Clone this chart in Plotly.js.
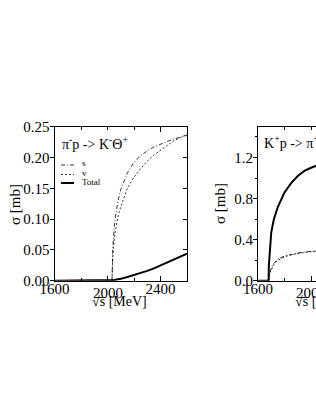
<!DOCTYPE html>
<html>
<head>
<meta charset="utf-8">
<script src="https://cdn.plot.ly/plotly-3.0.1.min.js"></script>
<style>
html,body{margin:0;padding:0;overflow:hidden;background:#fff;}
#chart{width:400px;height:409px;}
</style>
</head>
<body>
<div id="chart"></div>
<script>
// ---- data: left panel  pi- p -> K- Theta+ ----
const sqrtsL = [1600, 2034, 2036, 2040, 2050, 2060, 2080, 2100, 2150, 2200, 2250, 2300, 2350, 2400, 2450, 2500, 2550, 2600];
const sL     = [null, 0, 0.030, 0.055, 0.085, 0.105, 0.130, 0.148, 0.175, 0.192, 0.203, 0.211, 0.217, 0.222, 0.226, 0.230, 0.233, 0.236];
const vL     = [null, 0, 0.020, 0.040, 0.065, 0.082, 0.105, 0.120, 0.150, 0.168, 0.182, 0.194, 0.204, 0.212, 0.220, 0.227, 0.232, 0.238];
const totL   = [0, 0, 0.0002, 0.0005, 0.001, 0.0015, 0.002, 0.003, 0.006, 0.009, 0.0125, 0.016, 0.020, 0.025, 0.0295, 0.034, 0.039, 0.044];

// ---- data: right panel  K+ p -> pi+ Theta+ ----
const sqrtsR = [1600, 1680, 1682, 1690, 1700, 1720, 1750, 1800, 1850, 1900, 1950, 2000, 2100, 2200, 2300, 2400, 2500, 2600];
const totR   = [0, 0, 0.15, 0.35, 0.47, 0.60, 0.72, 0.86, 0.95, 1.02, 1.07, 1.10, 1.15, 1.18, 1.20, 1.21, 1.22, 1.22];
const sR     = [null, 0, 0.04, 0.08, 0.12, 0.17, 0.21, 0.24, 0.258, 0.270, 0.279, 0.286, 0.297, 0.305, 0.311, 0.316, 0.320, 0.323];
const vR     = [null, 0, 0.035, 0.075, 0.11, 0.16, 0.20, 0.232, 0.252, 0.265, 0.275, 0.283, 0.295, 0.304, 0.311, 0.317, 0.322, 0.326];

const xTickVals = [1600, 2000, 2400];
const xTickText = ["1600", "", "2400"];
const xMidLabel = 2000;            // this label sits a little lower in the reference
const yTickValsL = [0, 0.05, 0.10, 0.15, 0.20, 0.25];
const yTickValsR = [0, 0.4, 0.8, 1.2];
const titleL = "π<sup>-</sup>p -> K<sup>-</sup>Θ<sup>+</sup>";
const titleR = "K<sup>+</sup>p -> π<sup>+</sup>Θ<sup>+</sup>";
const legendNames = ["s", "v", "Total"];
const xTitle = "√s̅ [MeV]";
const yTitle = "σ [mb]";

// ---- layout geometry (pixels) ----
const W = 400, H = 409;
const fx = p => p / W, fy = p => 1 - p / H;
const plotTop = 126.7, plotBot = 280.7;
const L0 = 54.5, L1 = 187, R0 = 258, R1 = 390.5;

const FONT = "Liberation Serif, Times New Roman, serif";
const dashS = "4px,2px,1px,2px";
const dashV = "2px,2px";

const traces = [
  {x: sqrtsL, y: sL, xaxis: 'x', yaxis: 'y', mode: 'lines', line: {color: '#000', width: 0.8, dash: dashS}, name: 's'},
  {x: sqrtsL, y: vL, xaxis: 'x', yaxis: 'y', mode: 'lines', line: {color: '#000', width: 0.8, dash: dashV}, name: 'v'},
  {x: sqrtsL, y: totL, xaxis: 'x', yaxis: 'y', mode: 'lines', line: {color: '#000', width: 2}, name: 'Total'},
  {x: sqrtsR, y: sR, xaxis: 'x2', yaxis: 'y2', mode: 'lines', line: {color: '#000', width: 0.8, dash: dashS}, name: 's'},
  {x: sqrtsR, y: vR, xaxis: 'x2', yaxis: 'y2', mode: 'lines', line: {color: '#000', width: 0.8, dash: dashV}, name: 'v'},
  {x: sqrtsR, y: totR, xaxis: 'x2', yaxis: 'y2', mode: 'lines', line: {color: '#000', width: 2}, name: 'Total'},
  {x: [null], y: [null], xaxis: 'x3', yaxis: 'y3', mode: 'lines', showlegend: false, hoverinfo: 'skip'},
  {x: [null], y: [null], xaxis: 'x4', yaxis: 'y4', mode: 'lines', showlegend: false, hoverinfo: 'skip'}
];

const tickFont = {family: FONT, size: 15, color: '#000'};
function xAx(dom, anchor, extra) {
  return Object.assign({
    domain: dom, anchor: anchor, range: [1600, 2600], tickvals: xTickVals, ticktext: xTickText, ticks: 'inside', ticklen: 5,
    tickwidth: 1, tickcolor: '#000', showline: true, linecolor: '#000', linewidth: 1, showgrid: false,
    zeroline: false, tickfont: tickFont, fixedrange: true, ticklabelstandoff: -6,
    minor: {dtick: 200, tick0: 1600, ticks: 'inside', ticklen: 3, tickcolor: '#000', showgrid: false}
  }, extra || {});
}
function yAx(rng, vals, fmt, anchor, minorDt, extra) {
  const o = {
    domain: [fy(plotBot), fy(plotTop)], anchor: anchor, range: rng, tickvals: vals, tickformat: fmt,
    ticks: 'outside', ticklen: 4, tickwidth: 1, tickcolor: '#000', showline: true, linecolor: '#000', linewidth: 1,
    showgrid: false, zeroline: false, tickfont: tickFont, fixedrange: true, ticklabelstandoff: -3
  };
  if (minorDt) o.minor = {dtick: minorDt, tick0: 0, ticks: 'outside', ticklen: 2, tickcolor: '#000', showgrid: false};
  return Object.assign(o, extra || {});
}

const layout = {
  width: W, height: H, margin: {l: 0, r: 0, t: 0, b: 0},
  paper_bgcolor: '#fff', plot_bgcolor: '#fff', showlegend: false,
  font: {family: FONT, color: '#000'},
  xaxis: xAx([fx(L0), fx(L1)], 'y'),
  yaxis: yAx([0, 0.25], yTickValsL, '.2f', 'x'),
  xaxis2: xAx([fx(R0), fx(R1)], 'y2'),
  yaxis2: yAx([0, 1.5], yTickValsR, '.1f', 'x2', 0.2),
  xaxis3: xAx([fx(L0), fx(L1)], 'y3', {overlaying: 'x', side: 'top', showticklabels: false}),
  yaxis3: yAx([0, 0.25], yTickValsL, '.2f', 'x3', null, {overlaying: 'y', side: 'right', ticks: 'inside', showticklabels: false}),
  xaxis4: xAx([fx(R0), fx(R1)], 'y4', {overlaying: 'x2', side: 'top', showticklabels: false}),
  yaxis4: yAx([0, 1.5], yTickValsR, '.1f', 'x4', null, {overlaying: 'y2', side: 'right', ticks: 'inside', showticklabels: false,
           minor: {dtick: 0.2, tick0: 0, ticks: 'inside', ticklen: 2, tickcolor: '#000', showgrid: false}}),
  annotations: [
    {text: String(xMidLabel), xref: 'x', yref: 'paper', x: xMidLabel, y: fy(292.5), xanchor: 'center', yanchor: 'middle', showarrow: false, font: tickFont},
    {text: String(xMidLabel), xref: 'x2', yref: 'paper', x: xMidLabel, y: fy(292.5), xanchor: 'center', yanchor: 'middle', showarrow: false, font: tickFont},
    {text: titleL, xref: 'paper', yref: 'paper', x: fx(60), y: fy(143), xanchor: 'left', yanchor: 'middle', showarrow: false, font: {family: FONT, size: 14}},
    {text: titleR, xref: 'paper', yref: 'paper', x: fx(262), y: fy(142), xanchor: 'left', yanchor: 'middle', showarrow: false, font: {family: FONT, size: 14}},
    {text: yTitle, xref: 'paper', yref: 'paper', x: fx(15), y: fy(205), textangle: -90, xanchor: 'center', yanchor: 'middle', showarrow: false, font: {family: FONT, size: 15}},
    {text: yTitle, xref: 'paper', yref: 'paper', x: fx(220), y: fy(204), textangle: -90, xanchor: 'center', yanchor: 'middle', showarrow: false, font: {family: FONT, size: 15}},
    {text: xTitle, xref: 'paper', yref: 'paper', x: fx(119), y: fy(301), xanchor: 'center', yanchor: 'middle', showarrow: false, font: {family: FONT, size: 14}},
    {text: xTitle, xref: 'paper', yref: 'paper', x: fx(322), y: fy(301), xanchor: 'center', yanchor: 'middle', showarrow: false, font: {family: FONT, size: 14}},
    {text: legendNames[0], xref: 'paper', yref: 'paper', x: fx(80), y: fy(163), xanchor: 'left', yanchor: 'middle', showarrow: false, font: {family: FONT, size: 9}},
    {text: legendNames[1], xref: 'paper', yref: 'paper', x: fx(80), y: fy(172.5), xanchor: 'left', yanchor: 'middle', showarrow: false, font: {family: FONT, size: 9}},
    {text: legendNames[2], xref: 'paper', yref: 'paper', x: fx(80), y: fy(182), xanchor: 'left', yanchor: 'middle', showarrow: false, font: {family: FONT, size: 9}}
  ],
  shapes: [
    {type: 'line', xref: 'paper', yref: 'paper', x0: fx(61), x1: fx(74), y0: fy(165), y1: fy(165), line: {color: '#000', width: 0.8, dash: dashS}},
    {type: 'line', xref: 'paper', yref: 'paper', x0: fx(61), x1: fx(74), y0: fy(174.5), y1: fy(174.5), line: {color: '#000', width: 0.8, dash: dashV}},
    {type: 'line', xref: 'paper', yref: 'paper', x0: fx(61), x1: fx(74), y0: fy(183), y1: fy(183), line: {color: '#000', width: 2}}
  ]
};

Plotly.newPlot('chart', traces, layout, {displayModeBar: false, staticPlot: true});
</script>
</body>
</html>
